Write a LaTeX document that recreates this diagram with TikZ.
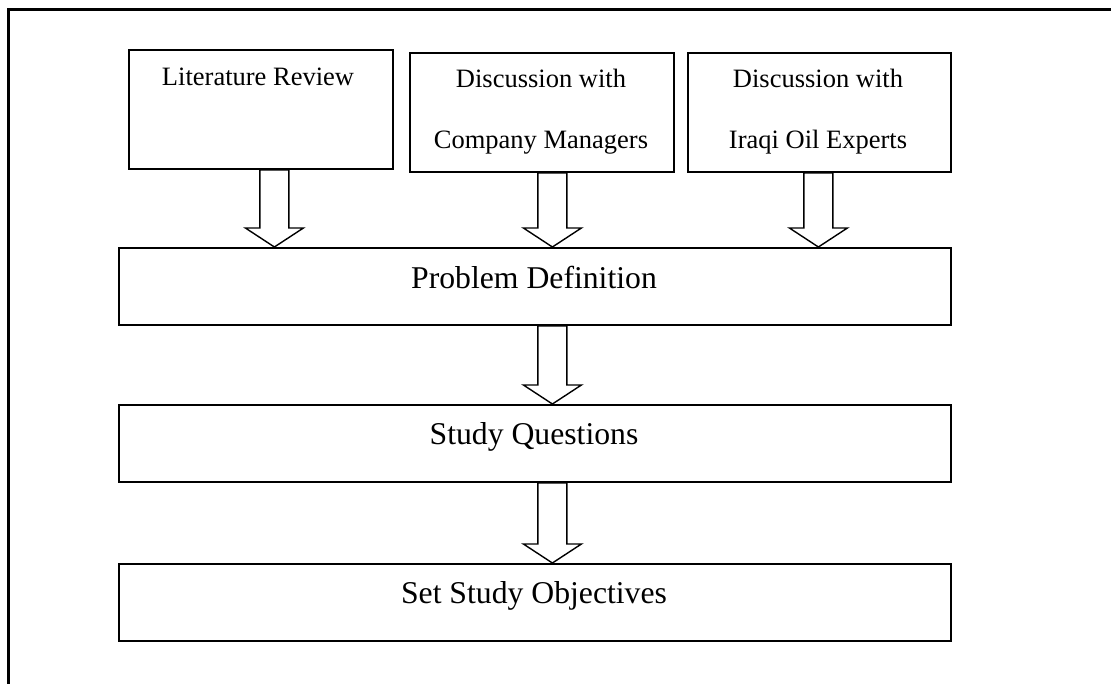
\documentclass[tikz,border=0pt]{standalone}
\usepackage{fontspec}
\setmainfont{Liberation Serif}
\usetikzlibrary{calc}

\tikzset{
  box/.style={draw, line width=1.8pt, fill=white, inner sep=0pt, anchor=north west},
  smalltext/.style={anchor=base, inner sep=0pt, font=\fontsize{26.5}{31}\selectfont},
  bigtext/.style={anchor=base, inner sep=0pt, font=\fontsize{31.7}{38}\selectfont},
  blockarrow/.style={draw, line width=1.4pt, fill=white, line join=miter,
    to path={let \p1=(\tikztostart), \p2=(\tikztotarget) in
      (\x1-14.5pt,\y1) -- (\x1+14.5pt,\y1) -- (\x1+14.5pt,\y2+19pt)
      -- (\x1+29pt,\y2+19pt) -- (\x1,\y2) -- (\x1-29pt,\y2+19pt)
      -- (\x1-14.5pt,\y2+19pt) -- cycle}},
}

\begin{document}
\begin{tikzpicture}[x=1pt, y=-1pt]
\useasboundingbox (0,0) rectangle (1111,683);

% outer frame (top and left edges)
\draw[line width=2.4pt] (1115,9.5) -- (8.3,9.5) -- (8.3,690);

% source boxes
\node[box, minimum width=264pt, minimum height=119pt] (lit) at (128,49) {};
\node[box, minimum width=264pt, minimum height=119pt] (comp) at (409,52) {};
\node[box, minimum width=263pt, minimum height=119pt] (iraq) at (687,52) {};

\node[smalltext] (litT) at (258,85.5) {Literature Review};
\node[smalltext] (compT1) at (541,87) {Discussion with};
\node[smalltext] (compT2) at (541,148) {Company Managers};
\node[smalltext] (iraqT1) at (818,87) {Discussion with};
\node[smalltext] (iraqT2) at (818,148) {Iraqi Oil Experts};

% main chain
\node[box, minimum width=832pt, minimum height=77pt] (pd) at (118,247) {};
\node[box, minimum width=832pt, minimum height=77pt] (sq) at (118,404) {};
\node[box, minimum width=832pt, minimum height=77pt] (sso) at (118,563) {};

\node[bigtext] (pdT) at (534,288) {Problem Definition};
\node[bigtext] (sqT) at (534,444) {Study Questions};
\node[bigtext] (ssoT) at (534,603) {Set Study Objectives};

% block arrows
\draw[blockarrow] ([xshift=13.5pt]lit.south) to ([xshift=13.5pt]lit.south |- pd.north);
\draw[blockarrow] ([xshift=10.5pt]comp.south) to ([xshift=10.5pt]comp.south |- pd.north);
\draw[blockarrow] ([xshift=-1pt]iraq.south) to ([xshift=-1pt]iraq.south |- pd.north);
\draw[blockarrow] ([xshift=17.5pt]pd.south) to ([xshift=17.5pt]pd.south |- sq.north);
\draw[blockarrow] ([xshift=17.5pt]sq.south) to ([xshift=17.5pt]sq.south |- sso.north);
\end{tikzpicture}
\end{document}
